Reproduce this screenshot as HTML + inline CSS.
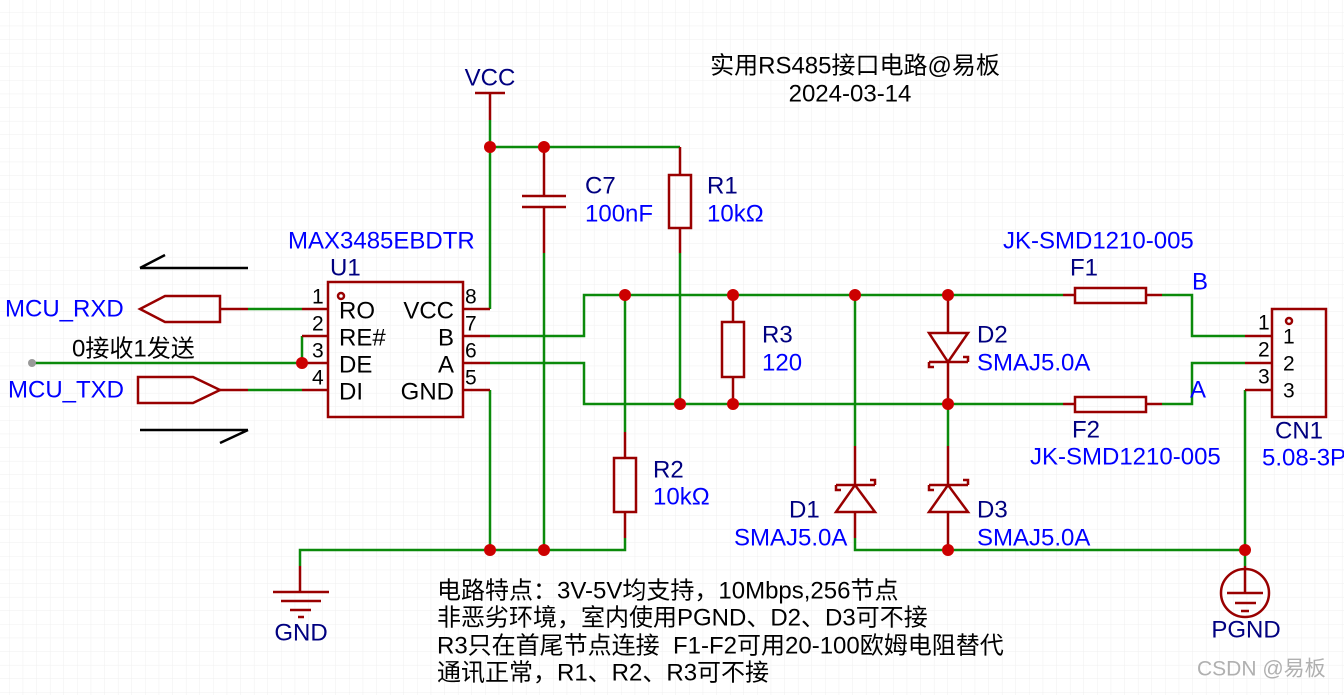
<!DOCTYPE html>
<html><head><meta charset="utf-8"><style>
html,body{margin:0;padding:0;background:#fff;}
svg{display:block;}
text{font-family:"Liberation Sans","Noto Sans CJK SC",sans-serif;font-size:24px;dominant-baseline:middle;}
.n{fill:#000080}.v{fill:#0000ff}.k{fill:#000}.p{font-size:21px;fill:#000}
</style></head><body>
<svg width="1344" height="695" xmlns="http://www.w3.org/2000/svg">
<defs>
<pattern id="g" width="13.6" height="13.6" patternUnits="userSpaceOnUse" x="-4" y="-1">
<path d="M13.6 0V13.6H0" fill="none" stroke="#efefef" stroke-width="1"/>
</pattern>
</defs>
<rect width="1344" height="695" fill="url(#g)"/>
<g fill="none" stroke-width="2.5">
<g stroke="#0b8a0b">
<path d="M490 120V309M490 147H680M680 253V404M544 253V550"/>
<path d="M490 336H584V295H1063M490 363H584V404H1063"/>
<path d="M1162 295H1192V336H1245M1162 404H1192V363H1245M1245 390V566"/>
<path d="M625 295V432M625 538V550H300V566M490 390V550"/>
<path d="M855 295V446M855 538V550H1245M948 404V446"/>
<path d="M32 363H302V336M248 309H302M248 390H302"/>
</g>
<g stroke="#990000">
<path d="M475 93H505M490 93V120"/>
<path d="M544 147V196M522 196H566M522 207H566M544 207V253"/>
<path d="M680 147V175M680 228V253"/><rect x="669" y="175" width="22" height="53"/>
<path d="M733 295V322M733 377V404"/><rect x="722" y="322" width="22" height="55"/>
<path d="M625 432V458M625 512V538"/><rect x="614" y="458" width="22" height="54"/>
<rect x="328" y="282" width="135" height="135"/>
<circle cx="341" cy="296" r="3"/>
<path d="M302 309H328M302 336H328M302 363H328M302 390H328M463 309H490M463 336H490M463 363H490M463 390H490"/>
<path d="M220 309H248M220 390H248"/>
<path d="M220 296H165L140 309L165 322H220Z"/>
<path d="M138 377H193L220 390L193 403H138Z"/>
<path d="M1063 295H1075M1146 295H1162M1063 404H1075M1146 404H1162"/>
<rect x="1075" y="288" width="71" height="15"/><rect x="1075" y="397" width="71" height="15"/>
<rect x="1272" y="309" width="54" height="108"/><circle cx="1289" cy="321" r="3"/>
<path d="M1245 336H1272M1245 363H1272M1245 390H1272"/>
<path d="M948 295V333M929 333H968L948 362ZM948 362V404M929 362H968M929 362V367H934M968 362V357H963"/>
<path d="M855 446V485M836 512H875L855 485ZM855 512V538M836 485H875M836 485V490H841M875 485V480H870"/>
<path d="M948 446V485M929 512H968L948 485ZM948 512V550M929 485H968M929 485V490H934M968 485V480H963"/>
<path d="M300 566V592M273 592H329M281 601H321M290 610H311M298 617H304"/>
<path d="M1245 566V593M1227 593H1263M1235 603H1256M1241 611H1249"/>
<circle cx="1245" cy="593" r="24"/>
</g>
<g stroke="#000" stroke-width="2.5">
<path d="M140 268H248M140 268L165 255M140 430H248M248 430L220 443"/>
</g>
</g>
<circle cx="32" cy="363" r="4" fill="#999"/>
<g fill="#cc0000">
<circle cx="490" cy="147" r="6"/><circle cx="544" cy="147" r="6"/>
<circle cx="302" cy="363" r="6"/>
<circle cx="625" cy="295" r="6"/><circle cx="733" cy="295" r="6"/><circle cx="855" cy="295" r="6"/><circle cx="948" cy="295" r="6"/>
<circle cx="680" cy="404" r="6"/><circle cx="733" cy="404" r="6"/><circle cx="948" cy="404" r="6"/>
<circle cx="490" cy="550" r="6"/><circle cx="544" cy="550" r="6"/>
<circle cx="948" cy="550" r="6"/><circle cx="1245" cy="550" r="6"/>
</g>
<text x="855" y="67" text-anchor="middle" class="k">实用RS485接口电路@易板</text>
<text x="850" y="95" text-anchor="middle" class="k">2024-03-14</text>
<text x="490" y="79" text-anchor="middle" class="n">VCC</text>
<text x="585" y="187" class="n">C7</text><text x="585" y="215" class="v">100nF</text>
<text x="707" y="187" class="n">R1</text><text x="707" y="215" class="v">10kΩ</text>
<text x="762" y="336" class="n">R3</text><text x="762" y="364" class="v">120</text>
<text x="653" y="471" class="n">R2</text><text x="653" y="498" class="v">10kΩ</text>
<text x="789" y="511" class="n">D1</text><text x="734" y="539" class="v">SMAJ5.0A</text>
<text x="977" y="336" class="n">D2</text><text x="977" y="364" class="v">SMAJ5.0A</text>
<text x="977" y="511" class="n">D3</text><text x="977" y="539" class="v">SMAJ5.0A</text>
<text x="1003" y="242" class="v">JK-SMD1210-005</text><text x="1070" y="269" class="n">F1</text>
<text x="1072" y="431" class="n">F2</text><text x="1030" y="458" class="v">JK-SMD1210-005</text>
<text x="1192" y="283" class="v">B</text><text x="1190" y="391" class="v">A</text>
<text x="1275" y="432" class="n">CN1</text><text x="1262" y="459" class="v">5.08-3P</text>
<text x="1258" y="324" class="p">1</text><text x="1258" y="351" class="p">2</text><text x="1258" y="378" class="p">3</text>
<text x="1283" y="338" class="p">1</text><text x="1283" y="365" class="p">2</text><text x="1283" y="392" class="p">3</text>
<text x="288" y="242" class="v">MAX3485EBDTR</text><text x="330" y="269" class="n">U1</text>
<text x="312" y="298" class="p">1</text><text x="312" y="325" class="p">2</text><text x="312" y="352" class="p">3</text><text x="312" y="379" class="p">4</text>
<text x="465" y="298" class="p">8</text><text x="465" y="325" class="p">7</text><text x="465" y="352" class="p">6</text><text x="465" y="379" class="p">5</text>
<text x="339" y="312" class="k">RO</text><text x="339" y="339" class="k">RE#</text><text x="339" y="366" class="k">DE</text><text x="339" y="393" class="k">DI</text>
<text x="454" y="312" text-anchor="end" class="k">VCC</text><text x="454" y="339" text-anchor="end" class="k">B</text><text x="454" y="366" text-anchor="end" class="k">A</text><text x="454" y="393" text-anchor="end" class="k">GND</text>
<text x="5" y="310" class="v">MCU_RXD</text>
<text x="8" y="391" class="v">MCU_TXD</text>
<text x="72" y="350" class="k">0接收1发送</text>
<text x="301" y="634" text-anchor="middle" class="n">GND</text>
<text x="1246" y="631" text-anchor="middle" class="n">PGND</text>
<text x="437" y="592" class="k">电路特点：3V-5V均支持，10Mbps,256节点</text>
<text x="437" y="619" class="k">非恶劣环境，室内使用PGND、D2、D3可不接</text>
<text x="437" y="647" class="k" xml:space="preserve">R3只在首尾节点连接  F1-F2可用20-100欧姆电阻替代</text>
<text x="437" y="674" class="k">通讯正常，R1、R2、R3可不接</text>
<text x="1197" y="670" style="fill:#b0b0b0;font-size:21px">CSDN @易板</text>
</svg>
</body></html>
